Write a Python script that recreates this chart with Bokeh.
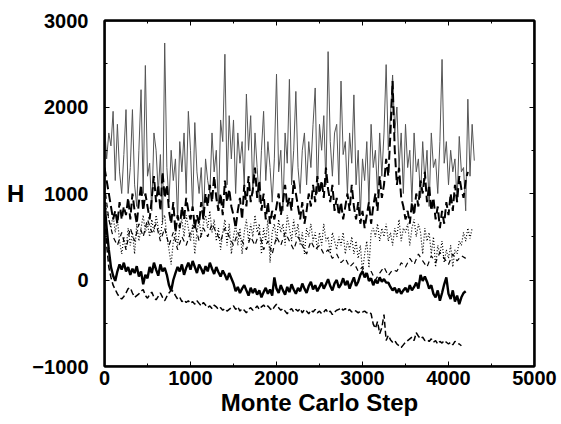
from bokeh.plotting import figure
from bokeh.models import LinearAxis, FixedTicker, Range1d, BoxAnnotation
from bokeh.embed import file_html
from bokeh.resources import INLINE

# ---------------- data ----------------
x_ticks = [0, 1000, 2000, 3000, 4000, 5000]
x_minor = [500, 1500, 2500, 3500, 4500]
y_ticks = [-1000, 0, 1000, 2000, 3000]
y_minor = [-500, 500, 1500, 2500]
y_tick_labels = {-1000: "\u22121000"}

step = 25  # Monte Carlo step spacing of the sampled traces
step_D = 50

# thin solid (highest energy trace)
h_A = [1800, 1400, 1700, 1550, 1950, 1150, 1800, 1250, 1000, 1450,
       1970, 1000, 1300, 1970, 1100, 850, 1500, 2200, 1000, 2480,
       1200, 1350, 800, 1700, 1500, 1000, 1450, 650, 2740, 1300,
       900, 1500, 1150, 1400, 700, 1600, 1250, 1700, 1000, 1950,
       1500, 800, 1820, 1250, 1000, 1300, 700, 1400, 1150, 1000,
       1700, 1250, 1500, 800, 1850, 1600, 2610, 1100, 1900, 1400,
       1850, 1000, 1700, 1350, 1600, 1100, 2150, 1500, 1900, 1000,
       1700, 1300, 900, 1500, 1950, 1150, 1600, 1300, 900, 1400,
       2380, 1250, 1500, 800, 1700, 1350, 2320, 1100, 1500, 2180,
       1300, 1000, 1500, 1700, 1100, 1600, 1300, 1800, 2220, 1000,
       1800, 1500, 1900, 1100, 2640, 1600, 1200, 1700, 1800, 1100,
       2300, 1450, 1600, 1000, 1700, 1350, 2140, 1100, 1500, 750,
       1400, 1150, 1600, 900, 1800, 1300, 1500, 1000, 1700, 1200,
       1700, 2490, 1500, 1900, 2370, 1700, 2000, 1300, 1700, 1000,
       1800, 1300, 1500, 900, 1700, 1250, 1400, 950, 1600, 1150,
       1500, 850, 1700, 1300, 1400, 1000, 1600, 2550, 1350, 1600,
       1100, 1500, 1250, 1400, 900, 1660, 1250, 1300, 800, 2090,
       1200, 1800, 1380]

# thick long-dashed
h_B = [1300, 1150, 1000, 850, 700, 800, 650, 900, 700, 850,
       750, 950, 700, 1000, 800, 650, 900, 1100, 800, 1000,
       850, 700, 950, 1200, 900, 1100, 800, 1250, 950, 1100,
       800, 650, 900, 550, 750, 600, 850, 700, 950, 800,
       700, 850, 600, 750, 650, 900, 700, 1000, 850, 1100,
       900, 1200, 950, 800, 1000, 750, 1150, 900, 1050, 850,
       750, 600, 800, 950, 700, 1100, 850, 1200, 900, 1050,
       1300, 950, 1150, 800, 1000, 700, 900, 650, 800, 700,
       850, 1000, 750, 900, 1100, 850, 950, 800, 1150, 1000,
       850, 700, 900, 650, 800, 1000, 850, 1100, 900, 1200,
       1000, 1150, 950, 1300, 1050, 900, 1100, 800, 950, 750,
       900, 700, 850, 1000, 800, 1100, 850, 700, 900, 650,
       800, 600, 750, 900, 650, 850, 1000, 800, 1200, 950,
       1100, 1400, 1200, 1700, 2300, 1500, 1100, 1300, 950, 850,
       700, 800, 650, 900, 750, 1000, 850, 1150, 1000, 1250,
       900, 1100, 800, 950, 700, 850, 600, 800, 650, 900,
       750, 1000, 800, 1100, 900, 1200, 1050, 950, 1150, 1250]

# dotted
h_C = [1000, 800, 700, 600, 750, 550, 700, 450, 300, 500,
       350, 600, 400, 550, 300, 650, 450, 600, 750, 550,
       650, 500, 700, 550, 750, 600, 500, 700, 750, 500,
       350, 180, 450, 550, 400, 600, 700, 500, 750, 600,
       450, 650, 300, 550, 700, 500, 650, 750, 600, 800,
       550, 700, 450, 600, 350, 550, 700, 400, 650, 300,
       500, 650, 400, 600, 300, 550, 700, 450, 650, 500,
       750, 550, 650, 300, 600, 450, 700, 200, 550, 650,
       450, 700, 550, 650, 400, 750, 600, 450, 700, 500,
       650, 400, 550, 300, 600, 500, 650, 450, 550, 350,
       550, 400, 650, 450, 500, 300, 550, 450, 350, 500,
       400, 550, 300, 450, 350, 500, 300, 450, 250, 400,
       100, 300, 450, 140, 550, 600, 500, 650, 450, 600,
       500, 650, 450, 550, 400, 600, 500, 700, 450, 600,
       550, 650, 400, 600, 700, 500, 650, 550, 300, 600,
       450, 550, 300, 500, 150, 400, 300, 450, 200, 350,
       250, 400, 150, 350, 300, 450, 400, 550, 450, 600,
       480, 600]

# medium-dashed (sampled every 50 steps)
h_D = [1100, 700, 500, 400, 550, 350, 600, 450, 650, 500,
       700, 550, 650, 450, 600, 400, 550, 350, 500, 400,
       550, 650, 450, 600, 500, 650, 550, 450, 600, 500,
       400, 550, 450, 350, 500, 400, 550, 350, 450, 300,
       500, 400, 550, 450, 350, 500, 400, 300, 450, 350,
       400, 300, 350, 250, 300, 200, 250, 150, 200, 100,
       150, 50, 100, 0, 80, 150, 50, 120, 100, 200,
       150, 250, 180, 300, 220, 150, 280, 200, 320, 250,
       180, 300, 220, 280, 250]

# thick solid
h_E = [900, 600, 350, 150, 50, -10, 100, 180, 120, 200,
       100, 150, 60, 130, 80, 160, 40, 100, -50, 60,
       20, 150, 80, 200, 120, 50, 180, 100, 140, 60,
       -60, -126, 0, 80, 150, 100, 180, 60, 140, 200,
       120, 220, 150, 80, 180, 130, 70, 160, 100, 200,
       130, 70, 150, 90, 40, 110, 60, 0, 80, 20,
       -40, -130, -80, -150, -100, -60, -120, -180, -90, -150,
       -100, -170, -120, -200, -140, -90, -160, -110, -180, 30,
       -100, -150, -60, -120, -170, -80, -140, -50, -110, -160,
       -90, -130, -40, -100, -150, -70, -20, -110, -60, -130,
       -80, -30, -100, -50, 10, -70, -120, -40, 0, -90,
       -50, 20, -60, -10, -100, -30, 30, -70, -20, 60,
       100, 30, 80, -10, 20, -60, 0, -40, 30, -20,
       10, -30, -30, -80, -120, -90, -150, -100, -160, -120,
       -90, -140, -60, -120, -80, -30, -100, 60, -10, 40,
       -20, -100, -60, -160, -200, -120, -240, -150, -50, 30,
       -160, -220, -120, -250, -180, -280, -200, -150, -130]

# lowest dashed
h_F = [800, 400, 150, 30, -60, -110, -160, -200, -220, -190,
       -150, -100, -90, -150, -200, -180, -160, -130, -110, -180,
       -210, -170, -140, -200, -230, -190, -150, -200, -240, -190,
       -150, -120, -130, -180, -220, -200, -250, -230, -260, -240,
       -270, -250, -280, -240, -270, -300, -260, -290, -320, -300,
       -330, -290, -310, -340, -320, -350, -330, -360, -340, -320,
       -300, -340, -310, -360, -330, -350, -380, -340, -320, -350,
       -330, -300, -340, -310, -290, -320, -300, -330, -350, -310,
       -280, -320, -350, -330, -360, -390, -350, -330, -370, -340,
       -360, -330, -380, -340, -360, -390, -350, -370, -340, -380,
       -360, -390, -370, -340, -380, -360, -400, -370, -350, -340,
       -320, -350, -330, -360, -340, -370, -350, -360, -380, -360,
       -370, -360, -380, -370, -390, -510, -560, -480, -620, -550,
       -400, -700, -640, -690, -720, -700, -740, -760, -780, -750,
       -720, -700, -680, -660, -700, -610, -650, -680, -660, -700,
       -690, -710, -680, -720, -700, -740, -710, -730, -700, -720,
       -740, -720, -750, -710, -730, -740, -760]


def steps(vals, s):
    return [i * s for i in range(len(vals))]


FONT = "Liberation Sans"

p = figure(width=561, height=424, output_backend="svg", toolbar_location=None,
           x_range=Range1d(0, 5000), y_range=Range1d(-1000, 3000),
           min_border_left=104, min_border_right=27, min_border_top=20,
           min_border_bottom=58,
           x_axis_label="Monte Carlo Step", y_axis_label="H")
p.grid.visible = False
p.outline_line_color = "black"
p.outline_line_width = 2
p.outline_line_alpha = 1.0
p.background_fill_color = "white"
p.border_fill_color = "white"


def style_axis(ax):
    ax.major_tick_in = 5
    ax.major_tick_out = 0
    ax.minor_tick_in = 3
    ax.minor_tick_out = 0
    ax.axis_line_width = 2
    ax.axis_line_color = "black"
    ax.major_tick_line_color = "black"
    ax.minor_tick_line_color = "black"
    ax.major_tick_line_width = 1
    ax.minor_tick_line_width = 1
    ax.major_label_text_font = FONT
    ax.major_label_text_font_style = "bold"
    ax.major_label_text_font_size = "20px"
    ax.major_label_text_color = "black"
    ax.axis_label_text_font = FONT
    ax.axis_label_text_font_style = "bold"
    ax.axis_label_text_font_size = "24px"
    ax.axis_label_text_color = "black"


xa = p.xaxis[0]
ya = p.yaxis[0]
xa.ticker = FixedTicker(ticks=x_ticks, minor_ticks=x_minor)
ya.ticker = FixedTicker(ticks=y_ticks, minor_ticks=y_minor)
style_axis(xa)
style_axis(ya)
xa.major_label_standoff = 4
xa.axis_label_standoff = 1
ya.major_label_standoff = 16
ya.axis_label_standoff = 5
ya.major_label_overrides = y_tick_labels
try:
    ya.axis_label_orientation = "horizontal"
except Exception:
    pass


def mirror_axis(side, majors, minors):
    # tick marks only on the opposite side of the frame; labels not painted
    ax = LinearAxis(ticker=FixedTicker(ticks=majors, minor_ticks=minors))
    style_axis(ax)
    ax.major_label_text_color = None
    ax.major_label_text_font_size = "1px"
    ax.major_label_standoff = 0
    p.add_layout(ax, side)


mirror_axis("above", x_ticks, x_minor)
mirror_axis("right", y_ticks, y_minor)

# explicit frame box (spans the whole plotting frame)
p.add_layout(BoxAnnotation(fill_alpha=0, line_color="black", line_width=2,
                           line_alpha=1.0, level="overlay"))

p.line(steps(h_A, step), h_A, line_color="#555555", line_width=1)
p.line(steps(h_B, step), h_B, line_color="black", line_width=2, line_dash="9 4")
p.line(steps(h_C, step), h_C, line_color="black", line_width=1.2, line_dash="1 2")
p.line(steps(h_D, step_D), h_D, line_color="black", line_width=1.2, line_dash="5 4")
p.line(steps(h_E, step), h_E, line_color="black", line_width=2.4)
p.line(steps(h_F, step), h_F, line_color="black", line_width=1.5, line_dash="6 3")

open("out.html", "w").write(file_html(p, INLINE))
